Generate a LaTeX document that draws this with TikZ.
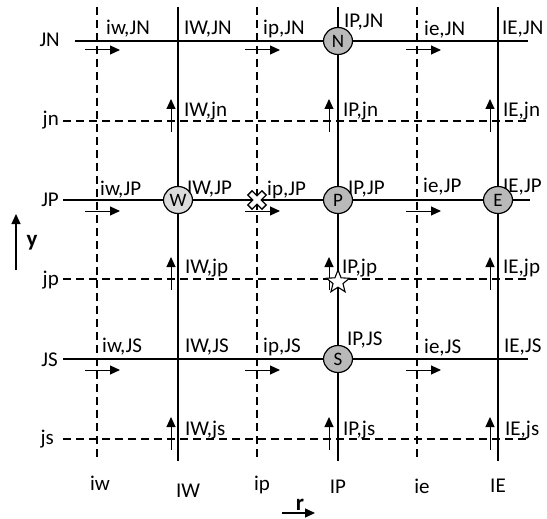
\documentclass[tikz,border=0pt]{standalone}
\usepackage{fontspec}
\setmainfont{Carlito}
\usetikzlibrary{arrows.meta,shapes.geometric}
\begin{document}
\begin{tikzpicture}[x=1pt,y=-1pt,
  solidline/.style={line width=1.8pt},
  dashline/.style={line width=1.3pt,dash pattern=on 8pt off 5pt},
  flow/.style={line width=1pt,-{Triangle[length=10pt,width=9pt]}},
  lab/.style={font=\fontsize{21}{22}\selectfont,inner sep=0pt,anchor=base west},
  rowlab/.style={font=\fontsize{21}{22}\selectfont,inner sep=0pt,anchor=base east},
  collab/.style={font=\fontsize{21}{22}\selectfont,inner sep=0pt,anchor=base},
  cell/.style={ellipse,draw,line width=1.2pt,minimum width=29pt,minimum height=27pt,inner sep=0pt,font=\fontsize{19}{19}\selectfont},
  dark/.style={cell,fill=gray!55},
  light/.style={cell,fill=gray!28}]
\useasboundingbox (0,0) rectangle (547,519);
% grid coordinates
\coordinate (iwT) at (97,7);   \coordinate (iwB) at (97,461);
\coordinate (IWT) at (178,7);  \coordinate (IWB) at (178,461);
\coordinate (ipT) at (257,7);  \coordinate (ipB) at (257,461);
\coordinate (IPT) at (338,7);  \coordinate (IPB) at (338,461);
\coordinate (ieT) at (417,7);  \coordinate (ieB) at (417,461);
\coordinate (IET) at (498,7);  \coordinate (IEB) at (498,461);
\coordinate (JNL) at (75,41);  \coordinate (JNR) at (528,41);
\coordinate (jnL) at (63,121); \coordinate (jnR) at (528,121);
\coordinate (JPL) at (63,200); \coordinate (JPR) at (530,200);
\coordinate (jpL) at (63,279); \coordinate (jpR) at (528,279);
\coordinate (JSL) at (63,359); \coordinate (JSR) at (528,359);
\coordinate (jsL) at (63,439); \coordinate (jsR) at (528,439);
% grid lines
\draw[dashline] (iwT) -- (iwB);
\draw[dashline] (ipT) -- (ipB);
\draw[dashline] (ieT) -- (ieB);
\draw[solidline] (IWT) -- (IWB);
\draw[solidline] (IPT) -- (IPB);
\draw[line width=1.3pt] (IET) -- (IEB);
\draw[solidline] (JNL) -- (JNR);
\draw[solidline] (JPL) -- (JPR);
\draw[solidline] (JSL) -- (JSR);
\draw[dashline] (jnL) -- (jnR);
\draw[dashline] (jpL) -- (jpR);
\draw[dashline] (jsL) -- (jsR);
% row labels
\node[rowlab] (lJN) at (60,47) {JN};
\node[rowlab] (ljn) at (59,126) {jn};
\node[rowlab] (lJP) at (59,207) {JP};
\node[rowlab] (ljp) at (59,285) {jp};
\node[rowlab] (lJS) at (58,366) {JS};
\node[rowlab] (ljs) at (54,444) {js};
% column labels
\node[collab] (liw) at (100,490) {iw};
\node[collab] (lIW) at (188,497) {IW};
\node[collab] (lip) at (262,490) {ip};
\node[collab] (lIP) at (338,493) {IP};
\node[collab] (lie) at (422,493) {ie};
\node[collab] (lIE) at (498,492) {IE};
% horizontal flow arrows
\foreach \yy in {50,211,370} {
  \foreach \xx in {85,245,406} {
    \coordinate (ha) at (\xx,\yy);
    \coordinate (hb) at (\xx+35,\yy);
    \draw[flow] (ha) -- (hb);
  }
}
% vertical flow arrows
\foreach \yy in {121,279,439} {
  \foreach \xx in {171,329,490} {
    \coordinate (va) at (\xx,\yy+11);
    \coordinate (vb) at (\xx,\yy-22);
    \draw[flow] (va) -- (vb);
  }
}
% face/cell labels
\node[lab] at (106,35) {iw,JN};
\node[lab] at (184,35) {IW,JN};
\node[lab] at (263,35) {ip,JN};
\node[lab] at (344,28) {IP,JN};
\node[lab] at (424,36) {ie,JN};
\node[lab] at (502,35) {IE,JN};
\node[lab] at (184,117) {IW,jn};
\node[lab] at (343,117) {IP,jn};
\node[lab] at (503,117) {IE,jn};
\node[lab] at (100,196) {iw,JP};
\node[lab] at (187,194) {IW,JP};
\node[lab] at (267,195) {ip,JP};
\node[lab] at (348,194) {IP,JP};
\node[lab] at (423,193) {ie,JP};
\node[lab] at (503,193) {IE,JP};
\node[lab] at (185,273) {IW,jp};
\node[lab] at (342,273) {IP,jp};
\node[lab] at (503,273) {IE,jp};
\node[lab] at (102,352) {iw,JS};
\node[lab] at (185,352) {IW,JS};
\node[lab] at (263,352) {ip,JS};
\node[lab] at (347,345) {IP,JS};
\node[lab] at (424,353) {ie,JS};
\node[lab] at (504,352) {IE,JS};
\node[lab] at (185,435) {IW,js};
\node[lab] at (343,435) {IP,js};
\node[lab] at (505,435) {IE,js};
% cell nodes
\node[dark] (N) at (338,41) {N};
\node[light] (W) at (178,200) {W};
\node[dark] (P) at (338,200) {P};
\node[dark] (E) at (498,200) {E};
\node[dark] (S) at (338,359) {S};
% cross marker
\coordinate (X) at (257,200);
\draw[line width=1.3pt,fill=white,rotate around={45:(X)},shift={(X)}]
  (3,3) -- (3,10) -- (-3,10) -- (-3,3) -- (-10,3) -- (-10,-3)
  -- (-3,-3) -- (-3,-10) -- (3,-10) -- (3,-3) -- (10,-3) -- (10,3) -- cycle;
% star marker
\node[star,star points=5,star point ratio=2.3,draw,line width=1.1pt,fill=white,minimum size=24pt,inner sep=0pt] (star) at (338,282) {};
% axes
\coordinate (ya) at (16,270); \coordinate (yb) at (16,214);
\draw[flow,line width=1.3pt] (ya) -- (yb);
\node[font=\fontsize{23}{23}\selectfont\bfseries,inner sep=0pt] (ylab) at (32,243) {y};
\coordinate (ra) at (282,513); \coordinate (rb) at (315,513);
\draw[flow,line width=1.3pt] (ra) -- (rb);
\node[font=\fontsize{23}{23}\selectfont\bfseries,inner sep=0pt,anchor=base] (rlab) at (300,510) {r};
\end{tikzpicture}
\end{document}
